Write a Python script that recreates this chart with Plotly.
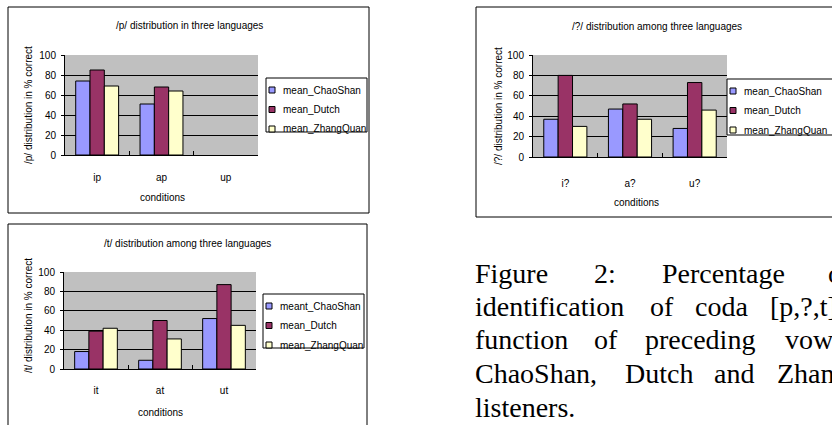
import plotly.graph_objects as go

W, H = 832, 425

series_colors = ["#9999FF", "#993366", "#FFFFCC"]
y_ticks = [0, 20, 40, 60, 80, 100]

# /p/ chart
p_conditions = ["ip", "ap", "up"]
p_chaoshan = [74, 51, None]
p_dutch = [85, 68, None]
p_zhangquan = [69, 64, None]
p_names = ["mean_ChaoShan", "mean_Dutch", "mean_ZhangQuan"]

# /t/ chart
t_conditions = ["it", "at", "ut"]
t_chaoshan = [18, 9, 52]
t_dutch = [39, 50, 87]
t_zhangquan = [42, 31, 45]
t_names = ["meant_ChaoShan", "mean_Dutch", "mean_ZhangQuan"]

# /?/ chart
q_conditions = ["i?", "a?", "u?"]
q_chaoshan = [37, 47, 28]
q_dutch = [80, 52, 73]
q_zhangquan = [30, 37, 46]
q_names = ["mean_ChaoShan", "mean_Dutch", "mean_ZhangQuan"]

caption_lines = [
    ["Figure", "2:", "Percentage", "of"],
    ["identification", "of", "coda", "[p,?,t]"],
    ["function", "of", "preceding", "vowels"],
    ["ChaoShan,", "Dutch", "and", "ZhangQuan"],
    ["listeners."],
]


def fx(x):
    return x / W


def fy(y):
    return 1 - y / H


panels = [
    dict(title="/p/ distribution in three languages", ytitle="/p/ distribution in % correct",
         cats=p_conditions, data=[p_chaoshan, p_dutch, p_zhangquan], names=p_names,
         box=(8, 7, 369, 213), plot=(65, 55, 258, 155), title_xy=(189, 26),
         ytitle_xy=(28, 105), xtitle_xy=(162, 198), legend=(266, 78, 367, 132), standoff=13),
    dict(title="/?/ distribution among three languages", ytitle="/?/ distribution in % correct",
         cats=q_conditions, data=[q_chaoshan, q_dutch, q_zhangquan], names=q_names,
         box=(476, 7, 845, 217), plot=(533, 55, 727, 157), title_xy=(657, 27),
         ytitle_xy=(499, 106), xtitle_xy=(636, 202), legend=(727, 79, 845, 135), standoff=17),
    dict(title="/t/ distribution among three languages", ytitle="/t/ distribution in % correct",
         cats=t_conditions, data=[t_chaoshan, t_dutch, t_zhangquan], names=t_names,
         box=(8, 224, 367, 440), plot=(64, 272, 256, 369), title_xy=(187, 243),
         ytitle_xy=(28, 316), xtitle_xy=(160, 412), legend=(263, 294, 364, 348), standoff=12),
]

font = dict(family="Liberation Sans, Arial", size=10, color="black")

fig = go.Figure()
shapes = []
annotations = []
axes = {}

for k, pn in enumerate(panels, start=1):
    sfx = "" if k == 1 else str(k)
    for vals, name, col in zip(pn["data"], pn["names"], series_colors):
        fig.add_trace(go.Bar(x=pn["cats"], y=vals, name=name, marker_color=col,
                             marker_line=dict(color="black", width=1),
                             xaxis="x" + sfx, yaxis="y" + sfx, showlegend=False))

    x0, y0, x1, y1 = pn["plot"]
    axes["xaxis" + sfx] = dict(domain=[fx(x0), fx(x1)], anchor="y" + sfx, type="category",
                               range=[-0.5, 2.5], showline=True, linecolor="black", linewidth=1,
                               ticks="inside", tickson="boundaries", ticklen=4, tickcolor="black",
                               showgrid=False, tickfont=font, ticklabelstandoff=pn["standoff"],
                               fixedrange=True)
    axes["yaxis" + sfx] = dict(domain=[fy(y1), fy(y0)], anchor="x" + sfx, range=[0, 100],
                               tickvals=y_ticks, showline=True, linecolor="black", linewidth=1,
                               ticks="outside", ticklen=3, tickcolor="black",
                               showgrid=True, gridcolor="black", gridwidth=1, zeroline=False,
                               tickfont=font, ticklabelstandoff=3, fixedrange=True)

    bx0, by0, bx1, by1 = pn["box"]
    shapes.append(dict(type="rect", xref="paper", yref="paper", x0=fx(bx0), x1=fx(bx1),
                       y0=fy(by1), y1=fy(by0), line=dict(color="black", width=1)))

    annotations.append(dict(text=pn["title"], x=fx(pn["title_xy"][0]), y=fy(pn["title_xy"][1]),
                            xref="paper", yref="paper", showarrow=False, font=font,
                            xanchor="center", yanchor="middle"))
    annotations.append(dict(text=pn["ytitle"], x=fx(pn["ytitle_xy"][0]), y=fy(pn["ytitle_xy"][1]),
                            xref="paper", yref="paper", showarrow=False, font=font, textangle=-90,
                            xanchor="center", yanchor="middle"))
    annotations.append(dict(text="conditions", x=fx(pn["xtitle_xy"][0]), y=fy(pn["xtitle_xy"][1]),
                            xref="paper", yref="paper", showarrow=False, font=font,
                            xanchor="center", yanchor="middle"))

    # legend drawn by hand so it can sit tight like the Excel one
    lx0, ly0, lx1, ly1 = pn["legend"]
    shapes.append(dict(type="rect", xref="paper", yref="paper", x0=fx(lx0), x1=fx(lx1),
                       y0=fy(ly1), y1=fy(ly0), line=dict(color="black", width=1),
                       fillcolor="white", layer="above"))
    for i, (name, col) in enumerate(zip(pn["names"], series_colors)):
        cy = ly0 + 12 + i * 19.5
        shapes.append(dict(type="rect", xref="paper", yref="paper", x0=fx(lx0 + 3), x1=fx(lx0 + 9),
                           y0=fy(cy + 3), y1=fy(cy - 3), fillcolor=col,
                           line=dict(color="black", width=1), layer="above"))
        annotations.append(dict(text=name, x=fx(lx0 + 15), y=fy(cy), xref="paper", yref="paper",
                                showarrow=False, font=font, xanchor="left", yanchor="middle"))

# caption, justified text placed word by word (the column runs past the right edge)
cap_font = dict(family="Liberation Serif, Times New Roman", size=28, color="black")
cap_x = [
    [473, 592, 660, 826],
    [473, 648, 693, 768],
    [473, 592, 643, 783],
    [473, 623, 712, 775],
    [473],
]
cap_y = [273, 306, 339, 373, 407]
for words, xs, y in zip(caption_lines, cap_x, cap_y):
    for w, x in zip(words, xs):
        annotations.append(dict(text=w, x=fx(x), y=fy(y), xref="paper", yref="paper",
                                showarrow=False, font=cap_font, xanchor="left", yanchor="middle"))

fig.update_layout(
    width=W, height=H,
    margin=dict(l=0, r=0, t=0, b=0, pad=0, autoexpand=False),
    paper_bgcolor="white", plot_bgcolor="#C0C0C0",
    barmode="group", bargap=0.333, bargroupgap=0,
    showlegend=False, font=font,
    shapes=shapes, annotations=annotations,
    **axes,
)

fig.write_html("out.html", config={"displayModeBar": False},
               post_script="document.body.style.margin='0';document.body.style.overflow='hidden';")
